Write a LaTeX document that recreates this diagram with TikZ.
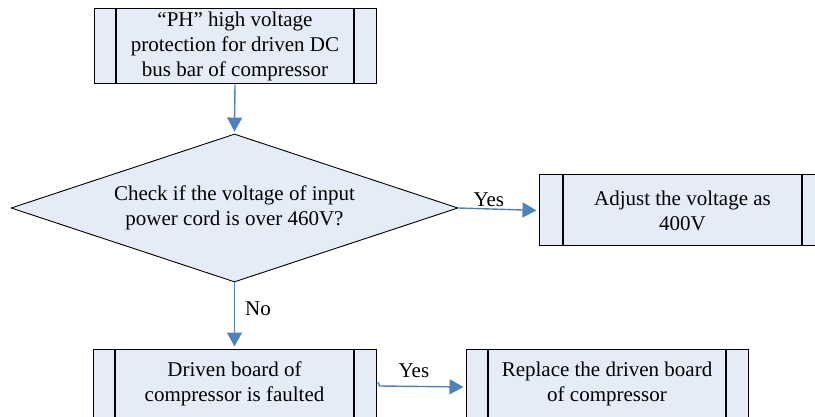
\documentclass[tikz,border=0pt]{standalone}
\usepackage{fontspec}
\setmainfont{Liberation Serif}
\usetikzlibrary{shapes.geometric,arrows.meta}
\definecolor{boxfill}{HTML}{E6ECF7}
\definecolor{arrowblue}{HTML}{4F81BD}
\tikzset{
  procbox/.style={draw=black, line width=1pt, fill=boxfill, rectangle, inner sep=0pt,
    align=center, font=\fontsize{21}{25}\selectfont,
    path picture={
      \draw[line width=1.3pt] ([xshift=#1]path picture bounding box.north west) -- ([xshift=#1]path picture bounding box.south west);
      \draw[line width=1.3pt] ([xshift=-#1]path picture bounding box.north east) -- ([xshift=-#1]path picture bounding box.south east);
    }},
  decision/.style={draw=black, line width=0.9pt, fill=boxfill, diamond, aspect=3.2, inner sep=0pt,
    align=center, font=\fontsize{21}{25}\selectfont},
  arr/.style={draw=arrowblue, line width=1.4pt, -{Triangle[length=14pt,width=15pt]}, shorten >=2pt},
  lbl/.style={font=\fontsize{21}{24}\selectfont, text=black, inner sep=2pt},
}
\begin{document}
\begin{tikzpicture}[x=1pt,y=-1pt]
\useasboundingbox (0,0) rectangle (815,417);
\clip (0,0) rectangle (815,417);
\node[procbox=22pt, minimum width=282pt, minimum height=75pt] (top) at (235,46.5)
  {``PH'' high voltage\\protection for driven DC\\bus bar of compressor};
\node[decision, minimum width=447pt, minimum height=148pt] (dec) at (234.5,208)
  {Check if the voltage of input\\power cord is over 460V?};
\node[procbox=24pt, minimum width=287pt, minimum height=71pt] (adj) at (682.5,210.5)
  {Adjust the voltage as\\400V};
\node[procbox=22pt, minimum width=283pt, minimum height=70pt] (drv) at (234.5,384)
  {Driven board of\\compressor is faulted};
\node[procbox=22pt, minimum width=282pt, minimum height=70pt] (rep) at (607,384)
  {Replace the driven board\\of compressor};
\draw[arr] (top.south) -- (dec.north);
\draw[arr] (dec.east) -- node[lbl, above, pos=0.38] {Yes} (adj.west);
\draw[arr] (dec.south) -- node[lbl, right, pos=0.4, xshift=8pt] {No} (drv.north);
\draw[arr] ([yshift=1pt]drv.east) -- ++(2pt,0) -- ++(1pt,-3pt) -- node[lbl, above, pos=0.4, yshift=6pt] {Yes} ([yshift=-3pt]rep.west);
\end{tikzpicture}
\end{document}
